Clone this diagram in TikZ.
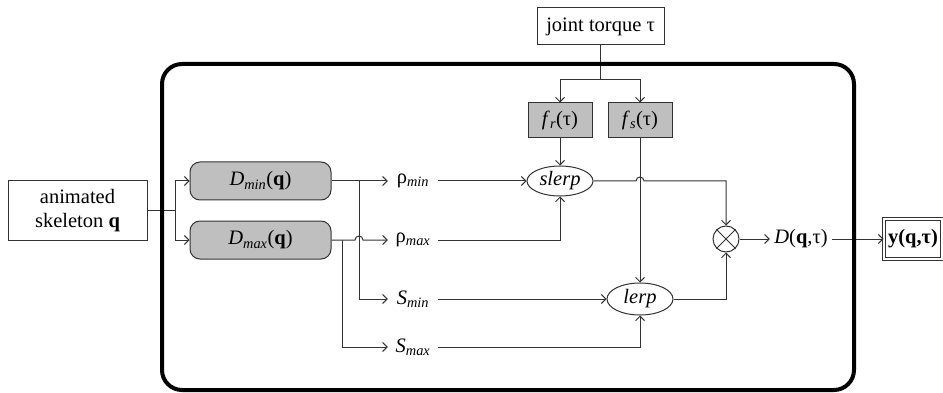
\documentclass[tikz,border=0pt]{standalone}
\usepackage{fontspec}
\setmainfont{Liberation Serif}
\usetikzlibrary{arrows.meta,shapes.geometric,calc}

\begin{document}
\begin{tikzpicture}[x=1pt,y=-1pt,
  line/.style={draw=black!80, line width=1pt},
  arr/.style={line, -{Straight Barb[length=4.5pt,width=9pt]}},
  txt/.style={font=\fontsize{20.5}{24.5}\selectfont},
  whitebox/.style={txt, draw=black!80, line width=1pt, fill=white, align=center, inner sep=0pt},
  graybox/.style={txt, draw=black!80, line width=1pt, fill=gray!50, inner sep=0pt},
  roundbox/.style={graybox, rounded corners=10pt, minimum width=141pt, minimum height=38pt},
  fbox/.style={graybox, minimum height=35pt},
  oval/.style={txt, ellipse, draw=black!80, line width=1pt, fill=white, inner sep=0pt},
  sig/.style={txt, inner sep=0pt, minimum width=50pt, minimum height=20pt}]

\useasboundingbox (0,0) rectangle (943,393);

% inputs
\node[whitebox, minimum width=139pt, minimum height=59pt] (skel) at (77.5,210.5) {animated\\skeleton \textbf{q}};
\node[whitebox, minimum width=127pt, minimum height=37pt] (joint) at (600.5,26.5) {joint torque τ};

% distribution blocks
\node[roundbox] (dmin) at (260.5,181) {\textit{D}\textsubscript{\textit{min}}(\textbf{q})};
\node[roundbox] (dmax) at (260.5,240) {\textit{D}\textsubscript{\textit{max}}(\textbf{q})};

% torque functions
\node[fbox, minimum width=64pt] (fr) at (560,120.5) {\textit{f}\textsubscript{\textit{r}}(τ)};
\node[fbox, minimum width=64pt] (fs) at (640,120.5) {\textit{f}\textsubscript{\textit{s}}(τ)};

% signals
\node[sig] (rmin) at (413,181) {ρ\textsubscript{\textit{min}}};
\node[sig] (rmax) at (413,240) {ρ\textsubscript{\textit{max}}};
\node[sig] (smin) at (413,299) {\textit{S}\textsubscript{\textit{min}}};
\node[sig] (smax) at (413,347) {\textit{S}\textsubscript{\textit{max}}};

% interpolators
\node[oval, minimum width=66pt, minimum height=30pt] (slerp) at (560,181) {\textit{slerp}};
\node[oval, minimum width=66pt, minimum height=32pt] (lerp) at (640,299) {\textit{lerp}};

% product
\node[circle, draw=black!80, line width=1pt, minimum size=26pt, inner sep=0pt] (ot) at (726,239) {};
\draw[line] (ot.north west) -- (ot.south east) (ot.north east) -- (ot.south west);

% output
\node[sig, minimum width=62pt] (dq) at (801,239) {\textit{D}(\textbf{q},τ)};
\node[txt, draw=black!80, line width=0.8pt, double, double distance=1.6pt, minimum width=58pt, minimum height=40pt, inner sep=0pt, fill=white] (yq) at (913,239) {\textbf{y(q,τ)}};

% branch points
\coordinate (b0) at (175,210.5);
\coordinate (bmin) at (359,181);
\coordinate (bmax) at (342,240);
\coordinate (jt) at (600.5,80);

% connectors
\draw[line] (skel.east) -- (b0);
\draw[arr] (b0) |- (dmin.west);
\draw[arr] (b0) |- (dmax.west);

\draw[arr] (dmin.east) -- (rmin.west);
\draw[arr] (bmin) |- (smin.west);
\draw[arr] (dmax.east) -- ($(bmin |- dmax.east)+(-4,0)$)
  arc[start angle=180, end angle=360, radius=4] -- (rmax.west);
\draw[arr] (bmax) |- (smax.west);

\draw[line] (joint.south) -- (jt);
\draw[arr] (jt) -| (fr.north);
\draw[arr] (jt) -| (fs.north);
\draw[arr] (fr.south) -- (slerp.north);
\draw[arr] (fs.south) -- (lerp.north);

\draw[arr] (rmin.east) -- (slerp.west);
\draw[arr] (rmax.east) -| (slerp.south);
\draw[arr] (smin.east) -- (lerp.west);
\draw[arr] (smax.east) -| (lerp.south);

\draw[arr] (slerp.east) -- ($(slerp.east -| fs.south)+(-4,0)$)
  arc[start angle=180, end angle=360, radius=4] -- (slerp.east -| ot.north) -- (ot.north);
\draw[arr] (lerp.east) -| (ot.south);

\draw[arr] (ot.east) -- (dq.west);
\draw[arr] (dq.east) -- (yq.west);

% enclosing system frame
\draw[line width=4pt, rounded corners=20pt] (162,64) rectangle (854,390);
\end{tikzpicture}
\end{document}
